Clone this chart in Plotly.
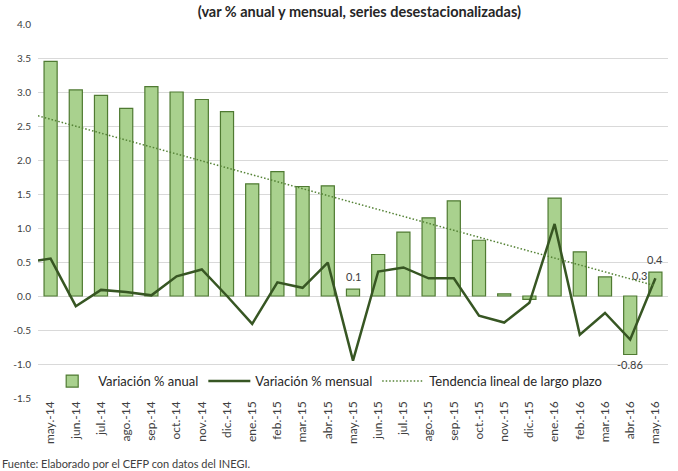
import plotly.graph_objects as go

categories = ["may.-14", "jun.-14", "jul.-14", "ago.-14", "sep.-14", "oct.-14", "nov.-14", "dic.-14",
              "ene.-15", "feb.-15", "mar.-15", "abr.-15", "may.-15", "jun.-15", "jul.-15", "ago.-15",
              "sep.-15", "oct.-15", "nov.-15", "dic.-15", "ene.-16", "feb.-16", "mar.-16", "abr.-16", "may.-16"]
anual = [3.45, 3.03, 2.95, 2.76, 3.08, 3.00, 2.89, 2.71, 1.65, 1.83, 1.61, 1.62, 0.10, 0.61, 0.94, 1.15,
         1.40, 0.82, 0.03, -0.05, 1.44, 0.65, 0.28, -0.86, 0.35]
mensual_x = [-0.5] + list(range(len(categories)))
mensual = [0.52, 0.55, -0.15, 0.09, 0.06, 0.01, 0.29, 0.39, 0.00, -0.41, 0.20, 0.12, 0.49, -0.95, 0.36,
           0.42, 0.26, 0.26, -0.29, -0.39, -0.10, 1.06, -0.57, -0.25, -0.64, 0.26]
trend_x = [-0.5, 24]
trend = [2.65, 0.15]
yticks = [-1.5, -1.0, -0.5, 0.0, 0.5, 1.0, 1.5, 2.0, 2.5, 3.0, 3.5, 4.0]

# data labels: (index, value, text, position)
label_idx = [12, 24, 23, 24]
label_val = [0.10, 0.35, -0.86, 0.26]
label_txt = ["0.1", "0.4", "-0.86", "0.3"]
label_pos = ["above", "above", "below", "left"]

FONT = "Lato"
xs = list(range(len(categories)))

fig = go.Figure()
fig.add_trace(go.Bar(
    x=xs, y=anual, name="Variación % anual",
    marker=dict(color="#a9d18e", line=dict(color="#4f7a32", width=1.2)),
    width=0.52,
))
fig.add_trace(go.Scatter(
    x=mensual_x, y=mensual, mode="lines", name="Variación % mensual",
    line=dict(color="#375623", width=2.5),
))
fig.add_trace(go.Scatter(
    x=trend_x, y=trend, mode="lines", name="Tendencia lineal de largo plazo",
    line=dict(color="#548235", width=1.5, dash="1.5px,2px"),
))

for i, v, t, p in zip(label_idx, label_val, label_txt, label_pos):
    kw = dict(x=i, y=v, text=t, showarrow=False, font=dict(family=FONT, size=11, color="#404040"))
    if p == "above":
        kw.update(yanchor="bottom", yshift=4)
    elif p == "below":
        kw.update(yanchor="top", yshift=-2)
    else:
        kw.update(xanchor="right", xshift=-6, yshift=3)
    fig.add_annotation(**kw)

fig.add_annotation(text="Fuente: Elaborado por el CEFP con datos del INEGI.", xref="paper", yref="paper",
                   x=-0.06, y=-0.174, xanchor="left", yanchor="middle", showarrow=False,
                   font=dict(family=FONT, size=11, color="#404040"))

fig.update_layout(
    width=678, height=471,
    margin=dict(l=38, r=10, t=24, b=73, autoexpand=False),
    paper_bgcolor="white", plot_bgcolor="white",
    title=dict(text="<b>(var % anual y mensual, series desestacionalizadas)</b>", x=0.53, xanchor="center",
               y=0.975, yanchor="middle", font=dict(family=FONT, size=14.5, color="#262626")),
    font=dict(family=FONT, color="#404040"),
    bargap=0.45,
    legend=dict(orientation="h", x=0.013, y=0.045, xanchor="left", yanchor="middle",
                bgcolor="rgba(0,0,0,0)", font=dict(family=FONT, size=13, color="#262626"),
                itemwidth=42, traceorder="normal"),
    showlegend=True,
)
fig.update_xaxes(range=[-0.5, len(categories) - 0.5], tickmode="array", tickvals=xs, ticktext=categories,
                 tickangle=-90, tickfont=dict(family=FONT, size=12, color="#404040"), automargin=False,
                 showgrid=False, zeroline=False, showline=False, ticks="")
fig.update_yaxes(range=[-1.5, 4.0], tickmode="array", tickvals=yticks, ticktext=[f"{v:.1f}" for v in yticks],
                 tickfont=dict(family=FONT, size=10, color="#404040"), showgrid=True, gridcolor="#d9d9d9",
                 automargin=False, ticklabelstandoff=6,
                 gridwidth=1, zeroline=True, zerolinecolor="#d9d9d9", zerolinewidth=1, ticks="")

fig.write_html("out.html", post_script="document.body.style.margin='0';",
               config={"displayModeBar": False})
